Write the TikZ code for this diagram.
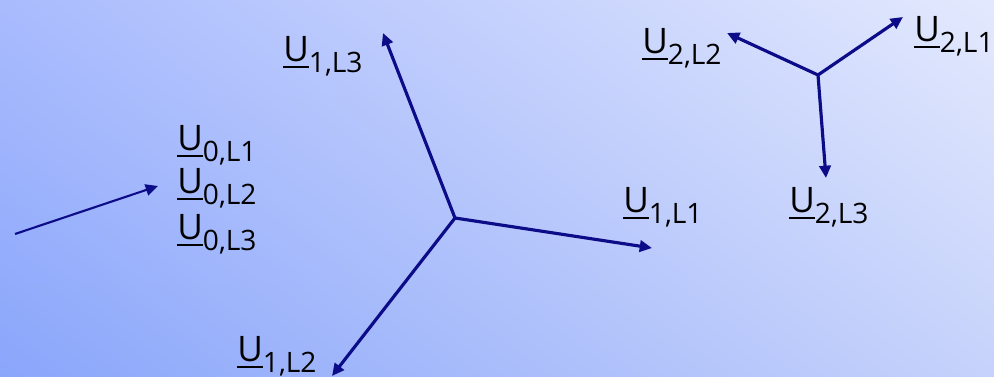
\documentclass[tikz,border=0pt]{standalone}
\usepackage{fontspec}
\setmainfont{Open Sans}
\usetikzlibrary{arrows.meta,shadings}
\definecolor{navy}{HTML}{0C0C88}
\definecolor{bgBL}{HTML}{8AA6FB}
\definecolor{bgTR}{HTML}{E3E9FD}
\definecolor{bgTL}{HTML}{A9BBFD}
\definecolor{bgBR}{HTML}{C6D2FB}
\newcommand{\myU}{\setbox0\hbox{U}\rlap{\rule[-3.2pt]{\wd0}{1.1pt}}\box0}
\newcommand{\ulab}[1]{\myU\raisebox{-6pt}{\fontsize{16}{16}\selectfont #1}}
\begin{document}
\begin{tikzpicture}[x=0.02cm,y=-0.02cm,
  vec/.style={draw=navy,line width=1.8pt,-{Triangle[length=7pt,width=6.5pt]}},
  thinvec/.style={draw=navy,line width=1.2pt,-{Triangle[length=7pt,width=6.5pt]}},
  lab/.style={anchor=base west,inner sep=0pt,font=\fontsize{20}{20}\selectfont,text=black}]
\useasboundingbox (0,0) rectangle (994,377);
\shade[lower left=bgBL, lower right=bgBR, upper left=bgTL, upper right=bgTR] (0,0) rectangle (994,377);
% left arrow
\coordinate (s0) at (15,234);
\coordinate (e0) at (158,186);
\draw[thinvec] (s0) -- (e0);
% star 1
\coordinate (c1) at (455,218);
\coordinate (a13) at (383,33);
\coordinate (a11) at (652,248);
\coordinate (a12) at (332,376);
\draw[vec] (c1) -- (a13);
\draw[vec] (c1) -- (a11);
\draw[vec] (c1) -- (a12);
% star 2
\coordinate (c2) at (818,75);
\coordinate (a22) at (727,33);
\coordinate (a21) at (903,17);
\coordinate (a23) at (826,178);
\draw[vec] (c2) -- (a22);
\draw[vec] (c2) -- (a21);
\draw[vec] (c2) -- (a23);
% labels
\node[lab] (l01) at (177,151) {\ulab{0,L1}};
\node[lab] (l02) at (177,194) {\ulab{0,L2}};
\node[lab] (l03) at (177,240) {\ulab{0,L3}};
\node[lab] (l13) at (283,62) {\ulab{1,L3}};
\node[lab] (l11) at (623,213) {\ulab{1,L1}};
\node[lab] (l12) at (237,362) {\ulab{1,L2}};
\node[lab] (l22) at (642,54) {\ulab{2,L2}};
\node[lab] (l21) at (914,42) {\ulab{2,L1}};
\node[lab] (l23) at (789,213) {\ulab{2,L3}};
\end{tikzpicture}
\end{document}
